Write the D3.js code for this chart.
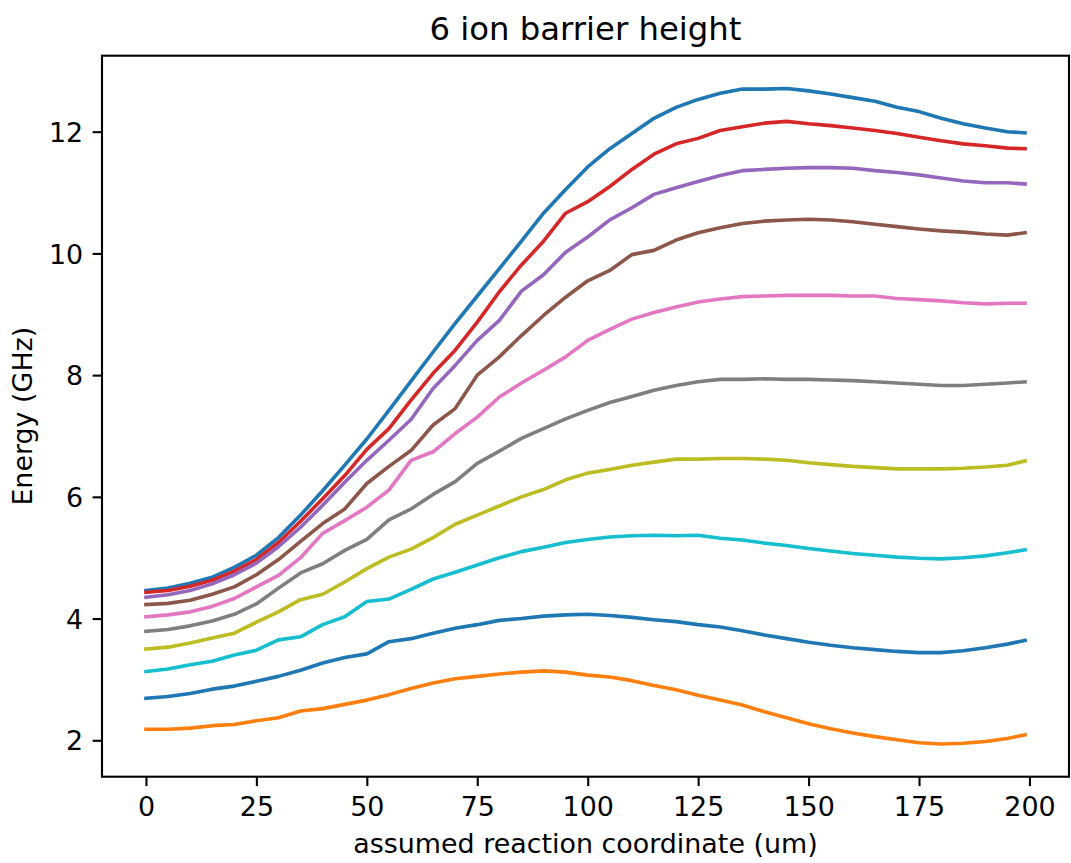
<!DOCTYPE html>
<html>
<head>
<meta charset="utf-8">
<script src="https://cdn.jsdelivr.net/npm/d3@7"></script>
<style>
  html, body { margin: 0; padding: 0; background: #ffffff; }
  svg { display: block; }
  text { font-family: "DejaVu Sans", sans-serif; fill: #000; }
</style>
</head>
<body>
<svg id="chart" width="1071" height="863"></svg>
<script>
// ---------- data ----------
const xValues = [0,5,10,15,20,25,30,35,40,45,50,55,60,65,70,75,80,85,90,95,100,
                 105,110,115,120,125,130,135,140,145,150,155,160,165,170,175,180,185,190,195,199];

const seriesBlueTop = [4.46,4.50,4.58,4.68,4.84,5.04,5.33,5.70,6.10,6.52,6.95,7.42,7.90,8.38,8.85,9.30,9.75,10.20,10.66,11.05,11.42,
                       11.72,11.97,12.22,12.40,12.53,12.63,12.70,12.70,12.71,12.67,12.62,12.56,12.50,12.40,12.33,12.22,12.13,12.06,12.00,11.98];
const seriesRed     = [4.43,4.46,4.53,4.63,4.78,4.97,5.25,5.60,5.97,6.35,6.78,7.12,7.59,8.03,8.41,8.87,9.37,9.81,10.20,10.66,10.85,
                       11.10,11.38,11.63,11.80,11.89,12.02,12.08,12.14,12.17,12.13,12.10,12.06,12.02,11.97,11.91,11.85,11.80,11.77,11.73,11.72];
const seriesPurple  = [4.35,4.39,4.46,4.57,4.72,4.91,5.18,5.50,5.86,6.24,6.60,6.93,7.27,7.78,8.16,8.57,8.90,9.38,9.65,10.02,10.27,
                       10.55,10.75,10.97,11.08,11.18,11.28,11.36,11.38,11.40,11.41,11.41,11.40,11.36,11.33,11.29,11.24,11.19,11.16,11.16,11.14];
const seriesBrown   = [4.23,4.25,4.30,4.40,4.52,4.72,4.97,5.27,5.56,5.80,6.22,6.50,6.76,7.18,7.45,8.00,8.30,8.65,8.98,9.28,9.55,
                       9.72,9.98,10.05,10.22,10.34,10.42,10.49,10.53,10.55,10.56,10.55,10.52,10.48,10.44,10.40,10.37,10.35,10.32,10.30,10.34];
const seriesPink    = [4.03,4.06,4.11,4.20,4.33,4.52,4.71,5.00,5.40,5.61,5.83,6.11,6.60,6.74,7.04,7.31,7.64,7.87,8.08,8.30,8.57,
                       8.75,8.92,9.03,9.12,9.20,9.25,9.29,9.30,9.31,9.31,9.31,9.30,9.30,9.26,9.24,9.22,9.19,9.17,9.18,9.18];
const seriesGray    = [3.79,3.82,3.88,3.96,4.07,4.24,4.50,4.75,4.90,5.12,5.30,5.62,5.80,6.04,6.25,6.55,6.75,6.96,7.12,7.28,7.42,
                       7.55,7.65,7.75,7.83,7.89,7.93,7.93,7.94,7.93,7.93,7.92,7.91,7.89,7.87,7.85,7.83,7.83,7.85,7.87,7.89];
const seriesOlive   = [3.50,3.53,3.60,3.68,3.76,3.94,4.11,4.31,4.40,4.60,4.82,5.01,5.14,5.33,5.55,5.70,5.85,6.00,6.12,6.28,6.39,
                       6.45,6.52,6.57,6.62,6.62,6.63,6.63,6.62,6.60,6.56,6.53,6.50,6.48,6.46,6.46,6.46,6.47,6.49,6.52,6.59];
const seriesCyan    = [3.13,3.17,3.24,3.30,3.40,3.48,3.65,3.70,3.90,4.03,4.28,4.32,4.48,4.65,4.76,4.88,5.00,5.10,5.17,5.25,5.30,
                       5.34,5.36,5.37,5.36,5.37,5.32,5.29,5.24,5.20,5.15,5.11,5.07,5.04,5.01,4.99,4.98,5.00,5.03,5.08,5.13];
const seriesBlueLow = [2.69,2.72,2.77,2.84,2.89,2.97,3.05,3.15,3.27,3.36,3.42,3.62,3.67,3.76,3.84,3.90,3.97,4.00,4.04,4.06,4.07,
                       4.05,4.02,3.98,3.95,3.90,3.86,3.80,3.73,3.67,3.61,3.56,3.52,3.49,3.46,3.44,3.44,3.47,3.52,3.58,3.64];
const seriesOrange  = [2.18,2.18,2.20,2.24,2.26,2.32,2.37,2.48,2.52,2.59,2.66,2.75,2.85,2.94,3.01,3.05,3.09,3.12,3.14,3.12,3.07,
                       3.04,2.98,2.90,2.83,2.74,2.66,2.58,2.47,2.37,2.27,2.19,2.12,2.06,2.01,1.96,1.94,1.95,1.98,2.03,2.09];

const xTicks = [0,25,50,75,100,125,150,175,200];
const yTicks = [2,4,6,8,10,12];
const titleText = "6 ion barrier height";
const xLabelText = "assumed reaction coordinate (um)";
const yLabelText = "Energy (GHz)";

// drawing order (later = on top) and colours
const seriesList = [
  { values: seriesBlueTop, color: "#1f77b4" },
  { values: seriesOrange,  color: "#ff7f0e" },
  { values: seriesRed,     color: "#d62728" },
  { values: seriesPurple,  color: "#9467bd" },
  { values: seriesBrown,   color: "#8c564b" },
  { values: seriesPink,    color: "#e377c2" },
  { values: seriesGray,    color: "#7f7f7f" },
  { values: seriesOlive,   color: "#bcbd22" },
  { values: seriesCyan,    color: "#17becf" },
  { values: seriesBlueLow, color: "#1f77b4" }
];

// ---------- layout ----------
const plotLeft = 102, plotRight = 1069, plotTop = 55.7, plotBottom = 776.7;
const tickLen = 9.4, tickPad = 9.4, fontSize = 26.9, titleSize = 32.3;

const svg = d3.select("#chart");

// matplotlib-like 5% margins
const xMin = d3.min(xValues), xMax = d3.max(xValues);
const allY = seriesList.flatMap(s => s.values);
const yMin = d3.min(allY), yMax = d3.max(allY);
const xPad = (xMax - xMin) * 0.05, yPad = (yMax - yMin) * 0.05;

const x = d3.scaleLinear().domain([xMin - xPad, xMax + xPad]).range([plotLeft, plotRight]);
const y = d3.scaleLinear().domain([yMin - yPad, yMax + yPad]).range([plotBottom, plotTop]);

// ---------- lines ----------
const line = d3.line()
  .x((d, i) => x(xValues[i]))
  .y(d => y(d));

svg.append("clipPath").attr("id", "plotclip")
  .append("rect").attr("x", plotLeft).attr("y", plotTop)
  .attr("width", plotRight - plotLeft).attr("height", plotBottom - plotTop);

svg.append("g").attr("clip-path", "url(#plotclip)")
  .selectAll("path")
  .data(seriesList)
  .join("path")
  .attr("d", d => line(d.values))
  .attr("fill", "none")
  .attr("stroke", d => d.color)
  .attr("stroke-width", 3.6)
  .attr("stroke-linejoin", "round")
  .attr("stroke-linecap", "square");

// ---------- axes ----------
const xAxis = d3.axisBottom(x).tickValues(xTicks).tickSize(tickLen).tickPadding(tickPad).tickFormat(d3.format("d"));
const yAxis = d3.axisLeft(y).tickValues(yTicks).tickSize(tickLen).tickPadding(tickPad).tickFormat(d3.format("d"));

const gx = svg.append("g").attr("transform", `translate(0,${plotBottom})`).call(xAxis);
const gy = svg.append("g").attr("transform", `translate(${plotLeft},0)`).call(yAxis);

[gx, gy].forEach(g => {
  g.select(".domain").remove();
  g.selectAll(".tick line").attr("stroke", "#000").attr("stroke-width", 2.1);
  g.selectAll(".tick text")
    .attr("font-family", "DejaVu Sans")
    .attr("font-size", fontSize)
    .attr("fill", "#000");
});
gx.selectAll(".tick text").attr("dy", null).attr("y", tickLen + tickPad + 20.3);
gy.selectAll(".tick text").attr("dy", "0.36em");

// frame (spines)
svg.append("rect")
  .attr("x", plotLeft).attr("y", plotTop)
  .attr("width", plotRight - plotLeft).attr("height", plotBottom - plotTop)
  .attr("fill", "none").attr("stroke", "#000").attr("stroke-width", 2.1);

// ---------- texts ----------
svg.append("text")
  .attr("x", (plotLeft + plotRight) / 2).attr("y", 39.6)
  .attr("text-anchor", "middle")
  .attr("font-size", titleSize)
  .text(titleText);

svg.append("text")
  .attr("x", (plotLeft + plotRight) / 2).attr("y", 852.5)
  .attr("text-anchor", "middle")
  .attr("font-size", fontSize)
  .text(xLabelText);

svg.append("text")
  .attr("transform", `translate(32,${(plotTop + plotBottom) / 2}) rotate(-90)`)
  .attr("text-anchor", "middle")
  .attr("font-size", fontSize)
  .text(yLabelText);
</script>
</body>
</html>
